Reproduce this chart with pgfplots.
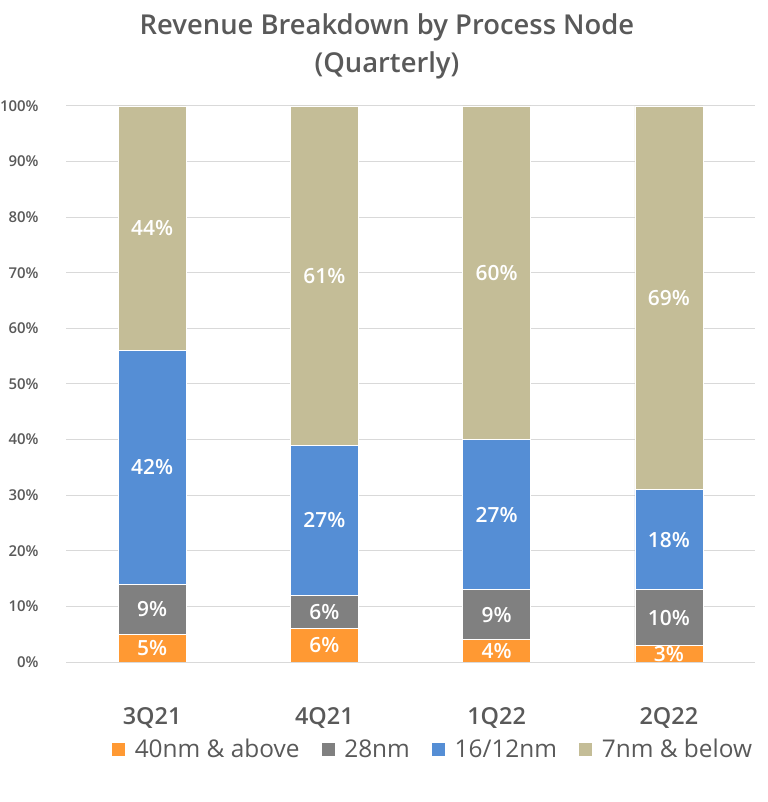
\documentclass[border=0pt]{standalone}
\usepackage{pgfplots}
\pgfplotsset{compat=1.18}
\usepackage{fontspec}
\setmainfont{Open Sans}
\IfFontExistsTF{Open Sans Semibold}
  {\newfontfamily\semi{Open Sans Semibold}}
  {\IfFontExistsTF{Open Sans SemiBold}
    {\newfontfamily\semi{Open Sans SemiBold}}
    {\IfFontExistsTF{Noto Sans SemiBold}
      {\newfontfamily\semi{Noto Sans SemiBold}}
      {\newcommand\semi{}}}}
\definecolor{c40}{HTML}{FF9933}
\definecolor{c28}{HTML}{808080}
\definecolor{c16}{HTML}{558ED5}
\definecolor{c7}{HTML}{C4BD97}
\definecolor{txt}{HTML}{595959}
\definecolor{gridc}{HTML}{D9D9D9}
\begin{document}
\begin{tikzpicture}
\useasboundingbox (0,0) rectangle (768bp,802bp);
\node[anchor=base, text=txt, font=\semi\fontsize{27.5}{32}\selectfont] at (387bp,767bp) {Revenue Breakdown by Process Node};
\node[anchor=base, text=txt, font=\semi\fontsize{27.5}{32}\selectfont] at (387bp,729bp) {(Quarterly)};
\begin{axis}[
  at={(66bp,140bp)}, anchor=south west,
  scale only axis, width=689bp, height=556bp,
  ybar stacked, bar width=68bp,
  xmin=-0.5, xmax=3.5, ymin=0, ymax=100,
  xtick={0,1,2,3}, xticklabels={3Q21,4Q21,1Q22,2Q22},
  ytick={0,10,...,100},
  yticklabel={\pgfmathprintnumber{\tick}\%},
  /pgf/number format/assume math mode=true,
  major tick length=0,
  axis line style={draw=none},
  ymajorgrids, grid style={gridc, line width=1bp},
  yticklabel style={text=txt, font=\semi\fontsize{15}{18}\selectfont, xshift=-24bp},
  xticklabel style={text=txt, font=\semi\fontsize{23.5}{27}\selectfont, yshift=-42bp},
  legend columns=4,
  legend cell align=left,
  legend image code/.code={\fill[#1] (0bp,-7bp) rectangle (14bp,7bp);},
  legend style={draw=none, fill=none, at={(0.532,-0.1565)}, anchor=center,
    text=txt, font=\fontsize{24.5}{28}\selectfont,
    /tikz/every odd column/.append style={column sep=7bp},
    /tikz/every even column/.append style={column sep=19bp}},
]
\addplot[fill=c40, draw=white, line width=0.75bp] coordinates {(0,5) (1,6) (2,4) (3,3)};
\addplot[fill=c28, draw=white, line width=0.75bp] coordinates {(0,9) (1,6) (2,9) (3,10)};
\addplot[fill=c16, draw=white, line width=0.75bp] coordinates {(0,42) (1,27) (2,27) (3,18)};
\addplot[fill=c7, draw=white, line width=0.75bp] coordinates {(0,44) (1,61) (2,60) (3,69)};
\legend{40nm \& above, 28nm, 16/12nm, 7nm \& below}
\end{axis}
\begin{axis}[
  at={(66bp,140bp)}, anchor=south west,
  scale only axis, width=689bp, height=556bp,
  xmin=-0.5, xmax=3.5, ymin=0, ymax=100,
  hide axis,
  nodes near coords, point meta=explicit symbolic,
  every node near coord/.style={anchor=center, text=white,
    font=\semi\fontsize{21}{24}\selectfont},
]
\addplot[draw=none, mark=none] coordinates {
  (0,2.5) [5\%] (1,3) [6\%] (2,2) [4\%] (3,1.5) [3\%]
  (0,9.5) [9\%] (1,9) [6\%] (2,8.5) [9\%] (3,8) [10\%]
  (0,35) [42\%] (1,25.5) [27\%] (2,26.5) [27\%] (3,22) [18\%]
  (0,78) [44\%] (1,69.5) [61\%] (2,70) [60\%] (3,65.5) [69\%]
};
\end{axis}
\end{tikzpicture}
\end{document}
